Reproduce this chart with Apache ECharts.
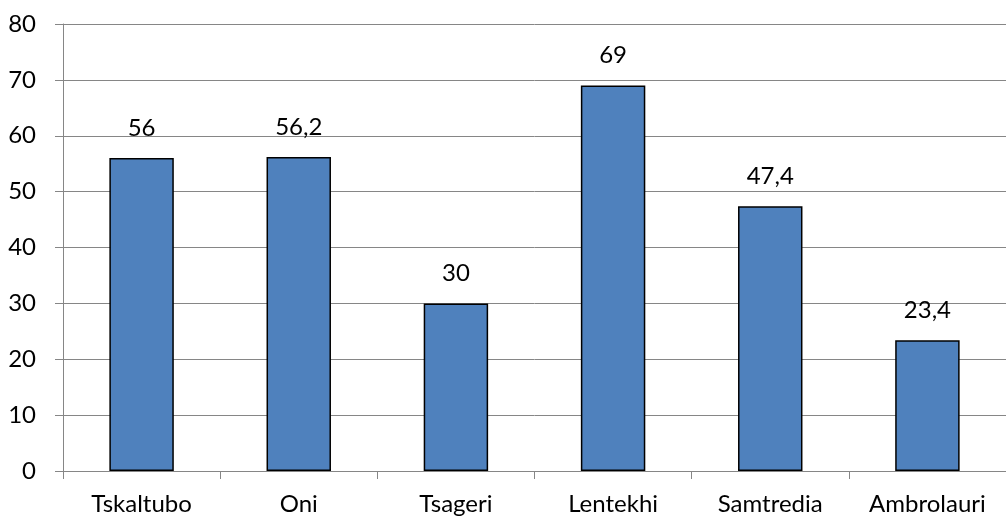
<!DOCTYPE html>
<html>
<head>
<meta charset="utf-8">
<script src="https://cdn.jsdelivr.net/npm/echarts@6/dist/echarts.min.js"></script>
<style>
  html, body { margin: 0; padding: 0; background: #fff; }
  #chart { width: 1006px; height: 516px; }
</style>
</head>
<body>
<div id="chart"></div>
<script>
// Districts and their values
const categories = ['Tskaltubo', 'Oni', 'Tsageri', 'Lentekhi', 'Samtredia', 'Ambrolauri'];
const values = [56, 56.2, 30, 69, 47.4, 23.4];
const yTicks = { min: 0, max: 80, interval: 10 };

const fontFamily = 'Lato, "Open Sans", sans-serif';
const chart = echarts.init(document.getElementById('chart'), null, { renderer: 'canvas' });

chart.setOption({
  animation: false,
  grid: { left: 63, right: 0, top: 24, bottom: 45, containLabel: false },
  xAxis: {
    type: 'category',
    data: categories,
    axisLine: { show: true, lineStyle: { color: '#868686', width: 1 } },
    axisTick: { show: true, alignWithLabel: false, length: 8, lineStyle: { color: '#868686' } },
    axisLabel: { color: '#000', fontSize: 24, fontFamily, margin: 21 },
    splitLine: { show: false }
  },
  yAxis: {
    type: 'value',
    min: yTicks.min,
    max: yTicks.max,
    interval: yTicks.interval,
    axisLine: { show: true, lineStyle: { color: '#868686', width: 1 } },
    axisTick: { show: true, inside: false, length: 8, lineStyle: { color: '#868686' } },
    axisLabel: { color: '#000', fontSize: 24, fontFamily, margin: 27 },
    splitLine: { show: true, lineStyle: { color: '#868686', width: 1 } }
  },
  series: [{
    type: 'bar',
    data: values,
    barWidth: '41%',
    itemStyle: { color: '#4F81BD', borderColor: '#000', borderWidth: 1.5 },
    label: {
      show: true,
      position: 'top',
      distance: 18,
      color: '#000',
      fontSize: 24,
      fontFamily,
      formatter: p => String(p.value).replace('.', ',')
    }
  }]
});
</script>
</body>
</html>
